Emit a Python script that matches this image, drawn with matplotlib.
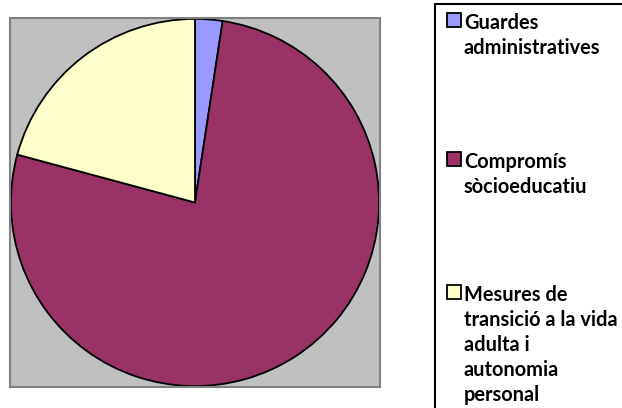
import matplotlib
matplotlib.use("Agg")
import matplotlib.pyplot as plt
from matplotlib.patches import Rectangle

labels = ["Guardes\nadministratives",
          "Compromís\nsòcioeducatiu",
          "Mesures de\ntransició a la vida\nadulta i\nautonomia\npersonal"]
values = [3, 96, 26]
colors = ["#9999FF", "#993366", "#FFFFCC"]

W, H = 622, 408
fig = plt.figure(figsize=(W / 100, H / 100), dpi=100)

# plot area (gray square)
ax = fig.add_axes([10 / W, (H - 387) / H, 370 / W, 369 / H])
ax.pie(values, colors=colors, startangle=90, counterclock=False, radius=1.0,
       wedgeprops=dict(edgecolor="black", linewidth=1.3))
ax.set_frame_on(True)
ax.patch.set_visible(True)
ax.set_facecolor("#C0C0C0")
for s in ax.spines.values():
    s.set_visible(True)
    s.set_color("#808080")
    s.set_linewidth(1.5)
ax.set_xlim(-1.005, 1.005)
ax.set_ylim(-1.005, 1.005)
ax.set_aspect("auto")
ax.set_xticks([])
ax.set_yticks([])

# legend box, running off the right and bottom edges
fig.patches.append(Rectangle((435 / W, -0.02), 0.35, (H - 4) / H + 0.02,
                             transform=fig.transFigure, facecolor="white",
                             edgecolor="black", linewidth=1.5, clip_on=False))

tops = [13, 152, 285]
for lab, col, top in zip(labels, colors, tops):
    fig.patches.append(Rectangle((447 / W, (H - top - 14) / H), 14 / W, 14 / H,
                                 transform=fig.transFigure, facecolor=col,
                                 edgecolor="black", linewidth=1.3))
    fig.text(464 / W, (H - top + 0) / H, lab, ha="left", va="top",
             fontsize=14.4, fontweight="bold", family="Lato",
             linespacing=1.31, color="black")

fig.savefig("out.png", dpi=100)
